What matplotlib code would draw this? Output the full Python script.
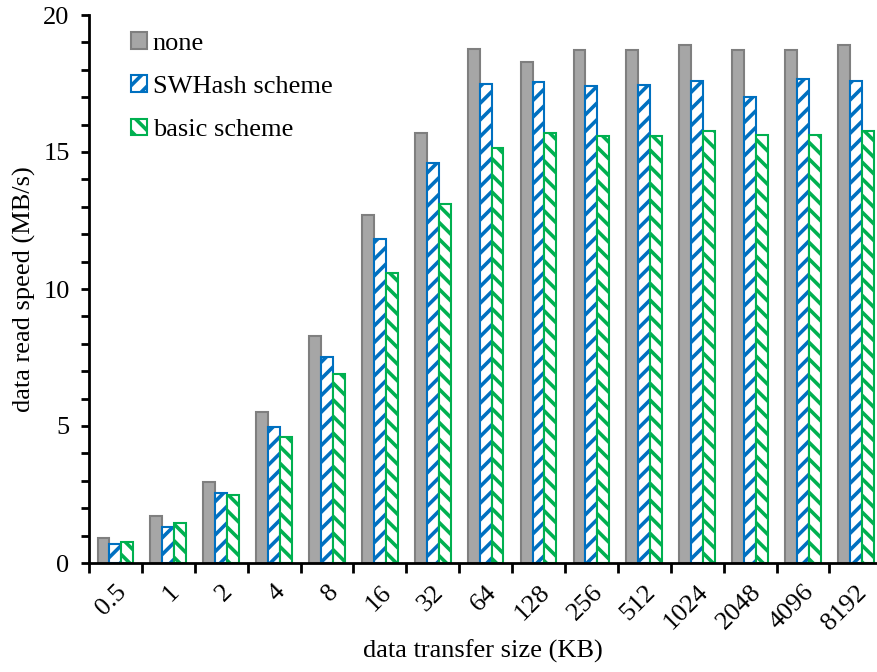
import numpy as np
import matplotlib.pyplot as plt
from matplotlib.ticker import MultipleLocator, FixedLocator, NullFormatter

plt.rcParams['font.family'] = ['Liberation Serif', 'DejaVu Serif']
plt.rcParams['hatch.linewidth'] = 2.6

sizes = ['0.5', '1', '2', '4', '8', '16', '32', '64', '128', '256', '512',
         '1024', '2048', '4096', '8192']
none_speed = [0.92, 1.73, 2.97, 5.52, 8.28, 12.7, 15.7, 18.76, 18.3, 18.72,
              18.72, 18.9, 18.74, 18.74, 18.9]
swhash_speed = [0.69, 1.33, 2.57, 4.96, 7.53, 11.82, 14.6, 17.48, 17.55, 17.42,
                17.43, 17.6, 17.0, 17.65, 17.6]
basic_speed = [0.77, 1.47, 2.48, 4.61, 6.9, 10.6, 13.1, 15.16, 15.68, 15.6,
               15.6, 15.77, 15.62, 15.62, 15.77]

fs = 19

fig = plt.figure(figsize=(8.77, 6.72), dpi=100)
ax = fig.add_axes([89 / 877, 109 / 672, 1 - 89 / 877, (563 - 15) / 672])

x = np.arange(len(sizes))
w = 0.225
ax.bar(x - w, none_speed, w, color='#A6A6A6', edgecolor='#7F7F7F',
       linewidth=1.5, label='none')
ax.bar(x, swhash_speed, w, color='white', edgecolor='#0070C0',
       linewidth=1.5, hatch='//', label='SWHash scheme')
ax.bar(x + w, basic_speed, w, color='white', edgecolor='#00B050',
       linewidth=1.5, hatch='\\\\', label='basic scheme')

ax.set_ylim(0, 20)
ax.set_xlim(-0.5, 14.4)
ax.yaxis.set_major_locator(MultipleLocator(5))
ax.yaxis.set_minor_locator(MultipleLocator(1))
ax.set_xticks(x)
ax.set_xticklabels(sizes, rotation=45, ha='right', rotation_mode='anchor')
ax.xaxis.set_minor_locator(FixedLocator(np.arange(-0.5, 15, 1)))
ax.xaxis.set_minor_formatter(NullFormatter())
ax.tick_params(axis='x', which='major', length=0, labelsize=fs, pad=13)
ax.tick_params(axis='x', which='minor', length=7, width=2, direction='out')
ax.tick_params(axis='y', which='both', length=6, width=2, direction='out',
               labelsize=fs, pad=8)

for s in ['top', 'right']:
    ax.spines[s].set_visible(False)
for s in ['left', 'bottom']:
    ax.spines[s].set_linewidth(2)

ax.set_xlabel('data transfer size (KB)', fontsize=fs, labelpad=4)
ax.set_ylabel('data read speed (MB/s)', fontsize=fs, labelpad=5)

ax.legend(loc='upper left', bbox_to_anchor=(131 / 877, 1 - 32 / 672),
          bbox_transform=fig.transFigure, frameon=False, fontsize=fs,
          handlelength=0.6, handleheight=0.6, handletextpad=0.22,
          labelspacing=0.78, borderpad=0, borderaxespad=0)

fig.savefig('out.png', dpi=100)
